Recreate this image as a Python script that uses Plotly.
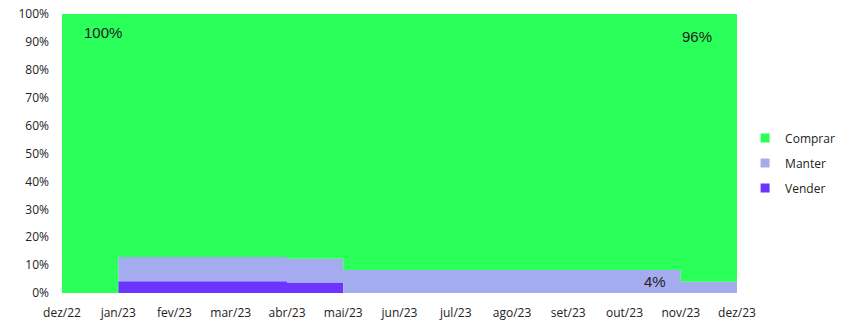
import plotly.graph_objects as go

months = ["dez/22", "jan/23", "fev/23", "mar/23", "abr/23", "mai/23", "jun/23",
          "jul/23", "ago/23", "set/23", "out/23", "nov/23", "dez/23"]
vender = [0, 4.2, 4.2, 4.2, 3.8, 0, 0, 0, 0, 0, 0, 0, 0]
manter = [0, 8.7, 8.7, 8.7, 8.5, 8.2, 8.2, 8.2, 8.2, 8.2, 8.2, 4.0, 4.0]
comprar = [round(100 - v - m, 1) for v, m in zip(vender, manter)]

x = list(range(len(months)))

fig = go.Figure()
series = [("Vender", vender, "#6B35FF"), ("Manter", manter, "#A4ABEE"), ("Comprar", comprar, "#2BFF59")]
for name, vals, col in series:
    fig.add_trace(go.Scatter(
        x=x, y=vals, name=name, stackgroup="one", mode="lines",
        line=dict(width=0, shape="hv", color=col), fillcolor=col,
        showlegend=False, hoverinfo="x+y+name",
    ))
# legend entries with square swatches (top to bottom: Comprar, Manter, Vender)
for name, vals, col in reversed(series):
    fig.add_trace(go.Scatter(
        x=[None], y=[None], name=name, mode="markers", legendgroup=name,
        marker=dict(symbol="square", size=9, color=col), showlegend=True,
    ))

ann_font = dict(family="Liberation Sans, Arial, sans-serif", size=15, color="#222222")
fig.add_annotation(x=0.73, y=93.2, text=f"{comprar[0]:.0f}%", showarrow=False, font=ann_font)
fig.add_annotation(x=11.29, y=91.8, text=f"{comprar[-1]:.0f}%", showarrow=False, font=ann_font)
fig.add_annotation(x=10.54, y=4.3, text=f"{manter[-1]:.0f}%", showarrow=False, font=ann_font)

fig.update_layout(
    width=844, height=321,
    margin=dict(l=62, r=107, t=14, b=28, autoexpand=False),
    paper_bgcolor="white", plot_bgcolor="white",
    font=dict(family="Open Sans, Arial, sans-serif", size=12, color="#222222"),
    showlegend=True,
    legend=dict(x=1.012, y=0.466, xanchor="left", yanchor="middle",
                traceorder="grouped", font=dict(size=12), itemwidth=30,
                tracegroupgap=6, bgcolor="rgba(0,0,0,0)"),
    xaxis=dict(range=[0, 12], tickmode="array", tickvals=x, ticktext=months,
               showgrid=False, zeroline=False, showline=False, ticks="",
               ticklabelstandoff=11, automargin=False, ticklabeloverflow="allow",
               tickfont=dict(size=12)),
    yaxis=dict(range=[0, 100], dtick=10, ticksuffix="%", showgrid=False,
               zeroline=False, showline=False, ticks="", ticklabelstandoff=12,
               automargin=False, ticklabeloverflow="allow", tickfont=dict(size=12)),
)

fig.write_html("out.html", config={"displayModeBar": False},
               post_script="document.body.style.margin='0px';")
